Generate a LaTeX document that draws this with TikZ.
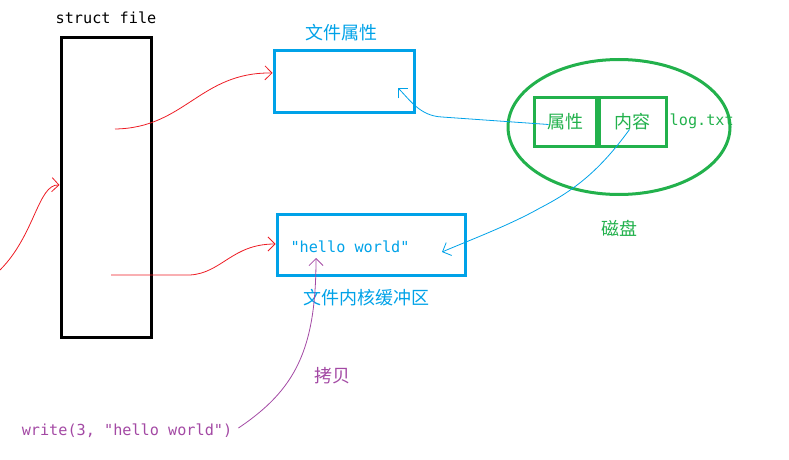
\documentclass[tikz,border=0pt]{standalone}
\usepackage{fontspec}
\setmonofont{DejaVu Sans Mono}
\newfontfamily\cjk{Noto Sans CJK SC}
\usetikzlibrary{arrows.meta,positioning,calc,shapes.geometric}
\definecolor{pblue}{RGB}{0,162,232}
\definecolor{pgreen}{RGB}{34,177,76}
\definecolor{pred}{RGB}{237,28,36}
\definecolor{ppurple}{RGB}{163,73,164}
\tikzset{
  blk/.style={draw,rectangle,line width=3pt,inner sep=0pt},
  sfblk/.style={blk,draw=black,minimum width=90pt,minimum height=299pt},
  bufblk/.style={blk,draw=pblue},
  cellblk/.style={blk,draw=pgreen,minimum height=49pt,text=pgreen},
  diskshape/.style={ellipse,draw=pgreen,line width=3pt,minimum width=222pt,minimum height=135pt},
  mono/.style={font=\ttfamily\fontsize{15.2}{18}\selectfont,inner sep=0pt},
  cjklbl/.style={font=\cjk\fontsize{18}{20}\selectfont,inner sep=0pt},
  tip/.style={-{Straight Barb[length=7pt,width=14pt]}},
  redarr/.style={tip,pred,line width=0.8pt},
  bluearr/.style={tip,pblue,line width=0.8pt},
  purparr/.style={tip,ppurple,line width=0.8pt}
}
\begin{document}
\begin{tikzpicture}[x=1pt,y=-1pt]
  \useasboundingbox (0,0) rectangle (789,460);

  \node[sfblk] (sfile) at (106,187.5) {};
  \node[mono, above=13pt of sfile] (sfname) {struct file};

  \node[bufblk, minimum width=140pt, minimum height=61pt] (fattr) at (344,81.5) {};
  \node[cjklbl, text=pblue] (fattrlbl) at (341,33) {文件属性};

  \node[bufblk, minimum width=188pt, minimum height=61pt] (kbuf) at (371,244.5) {};
  \node[mono, text=pblue] (hello) at (350,247) {"hello world"};
  \node[cjklbl, text=pblue] (kbuflbl) at (366,298) {文件内核缓冲区};

  \node[diskshape] (disk) at (619,127) {};
  \node[cellblk, minimum width=62pt, font=\cjk\fontsize{18}{20}\selectfont] (dattr) at (565,121.5) {属性};
  \node[cellblk, minimum width=67pt, font=\cjk\fontsize{18}{20}\selectfont, right=0pt of dattr] (dcont) {内容};
  \node[mono, text=pgreen, right=2pt of dcont] (logname) {log.txt};
  \node[cjklbl, text=pgreen] (disklbl) at (619,228) {磁盘};

  \node[mono, text=ppurple] (wcall) at (127,431) {write(3, "hello world")};
  \node[cjklbl, text=ppurple] (copylbl) at (332,376) {拷贝};

  \coordinate (fd) at (0,270);
  \coordinate (p1) at (115,129);
  \coordinate (p2) at (111,275);
  \coordinate (attrin) at (398,88);
  \coordinate (bufin) at (442,252);
  \coordinate (hellobot) at (316,258);

  \draw[redarr] (fd) .. controls (35,235) and (38,184) .. (sfile.west |- 0,185);
  \draw[redarr] (p1) .. controls (185,128) and (200,72) .. (fattr.west |- 0,73);
  \draw[redarr] (p2) -- (190,275) .. controls (222,273) and (232,244) .. (kbuf.west |- 0,244);

  \draw[bluearr] ($(dattr.west)+(16,3)$) -- (442,117) .. controls (420,116) and (410,100) .. (attrin);
  \draw[bluearr] ($(dcont.center)+(-3,8)$) .. controls (600,170) and (575,190) .. (540,208)
    .. controls (510,225) and (470,240) .. (bufin);

  \draw[purparr] (wcall.east) ++(6,-3) .. controls (295,390) and (316,350) .. (hellobot);
\end{tikzpicture}
\end{document}
